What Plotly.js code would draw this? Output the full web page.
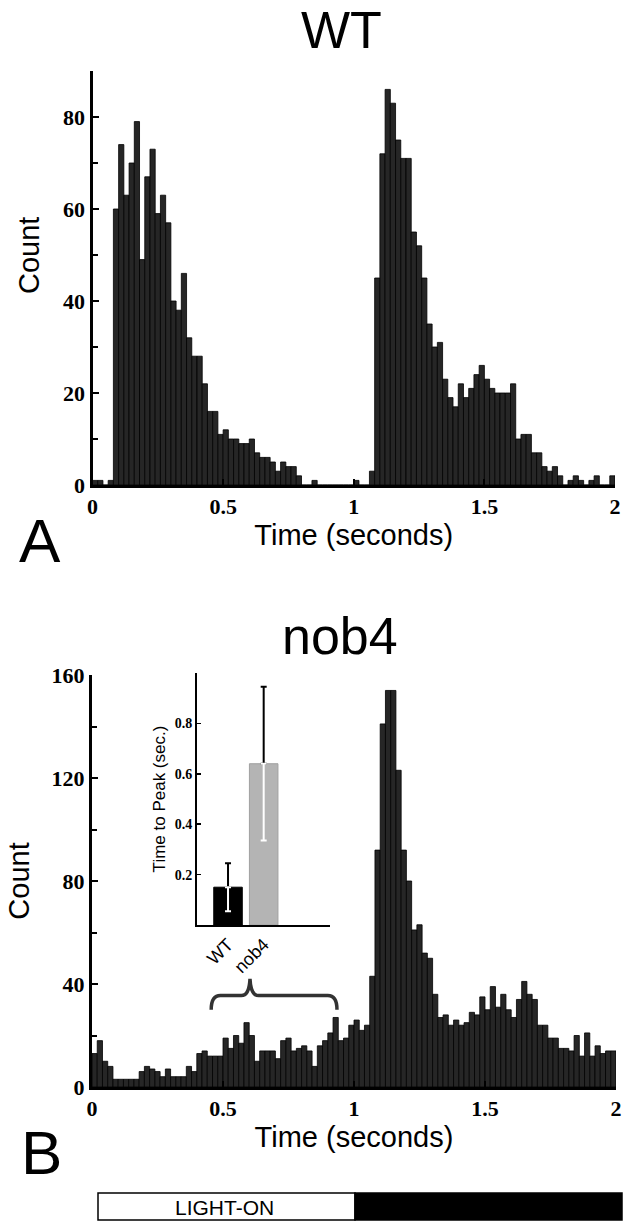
<!DOCTYPE html>
<html><head><meta charset="utf-8">
<script src="https://cdn.plot.ly/plotly-3.0.1.min.js"></script>
<style>html,body{margin:0;padding:0;background:#fff;}#chart{width:632px;height:1222px;}</style>
</head><body><div id="chart"></div>
<script>
// WT spike-time histogram, 0.02 s bins from 0 to 2 s
const wtCounts = [1,1,0,1,60,74,63,70,79,49,67,73,59,63,57,40,38,46,32,28,
  28,22,16,16,11,12,10,10,9,9,10,7,6,6,5,3,5,4,4,2,
  0,0,1,0,0,0,0,0,0,0,1,0,0,3,45,72,86,83,75,71,
  71,55,52,45,35,30,31,23,19,17,22,19,21,24,26,23,21,20,20,20,
  22,10,11,11,7,7,4,3,4,2,0,1,2,1,0,1,2,0,0,2];
// nob4 spike-time histogram, 0.02 s bins from 0 to 2 s
const nob4Counts = [13,18,10,8,3,3,3,3,3,6,8,7,6,4,7,4,4,4,8,6,
  13,14,12,12,12,19,15,20,17,25,20,10,14,14,14,11,18,19,14,15,
  16,14,8,16,18,21,27,18,19,24,26,22,24,43,92,141,154,154,123,92,
  80,61,63,52,50,36,27,28,24,26,24,25,29,28,35,30,39,31,36,30,
  27,34,41,36,34,24,24,19,19,15,15,14,20,12,21,12,16,13,14,14];
const timeTicks = [0, 0.5, 1, 1.5, 2];
const timeTickText = ['0', '0.5', '1', '1.5', '2'];
// Inset: time to peak
const insetGroups = ['WT', 'nob4'];
const insetMeans = [0.15, 0.64];
const insetErr = [0.095, 0.305];
const insetTicks = [0.2, 0.4, 0.6, 0.8];

const W = 632, H = 1222;
const px = v => v / W;
const py = v => 1 - v / H;
const SANS = 'Liberation Sans, Arial, sans-serif';
const SERIF = 'Liberation Serif, Times New Roman, serif';

const histStyle = {color: '#262626', line: {color: '#000', width: 0.8}};

const traces = [
  {type: 'bar', x0: 0.01, dx: 0.02, y: wtCounts, width: 0.02, marker: histStyle,
   xaxis: 'x', yaxis: 'y', hoverinfo: 'x+y'},
  {type: 'bar', x0: 0.01, dx: 0.02, y: nob4Counts, width: 0.02, marker: histStyle,
   xaxis: 'x2', yaxis: 'y2', hoverinfo: 'x+y'},
  {type: 'bar', x: insetGroups, y: insetMeans, width: 0.8,
   marker: {color: ['#000000', '#b4b4b4'], line: {color: ['#000000', '#a0a0a0'], width: 1}},
   error_y: {type: 'data', symmetric: false, array: insetErr, arrayminus: [0, 0],
             color: '#000', thickness: 2, width: 3},
   xaxis: 'x3', yaxis: 'y3'},
  {type: 'scatter', mode: 'markers', x: insetGroups, y: insetMeans,
   marker: {size: 1, opacity: 0},
   error_y: {type: 'data', symmetric: false, array: [0, 0], arrayminus: insetErr,
             color: '#fff', thickness: 2, width: 3},
   xaxis: 'x3', yaxis: 'y3', hoverinfo: 'skip'}
];

const timeAxis = (d0, d1, anchor) => ({
  domain: [px(d0), px(d1)], anchor: anchor, range: [0, 2],
  tickmode: 'array', tickvals: timeTicks, ticktext: timeTickText,
  ticks: 'inside', ticklen: 6, tickwidth: 2, tickcolor: '#000',
  showline: true, linewidth: 3, linecolor: '#000',
  showgrid: false, zeroline: false,
  tickfont: {family: SERIF, size: 22, color: '#000', weight: 'bold'},
  title: {text: 'Time (seconds)', font: {family: SANS, size: 29, color: '#000'}, standoff: 6}
});
const countAxis = (top, bottom, max, step, anchor, withTitle) => ({
  domain: [py(bottom), py(top)], anchor: anchor, range: [0, max],
  tick0: 0, dtick: step, ticks: 'inside', ticklen: 6, tickwidth: 2, tickcolor: '#000',
  minor: {dtick: step / 2, ticks: 'inside', ticklen: 5, tickwidth: 2, tickcolor: '#000'},
  showline: true, linewidth: 3, linecolor: '#000',
  showgrid: false, zeroline: false,
  tickfont: {family: SERIF, size: 22, color: '#000', weight: 'bold'},
  title: withTitle ? {text: 'Count', font: {family: SANS, size: 29, color: '#000'}, standoff: 14} : {text: ''}
});

const layout = {
  width: W, height: H, margin: {l: 0, r: 0, t: 0, b: 0},
  paper_bgcolor: '#fff', plot_bgcolor: 'rgba(0,0,0,0)',
  showlegend: false, barmode: 'overlay', bargap: 0,
  xaxis: timeAxis(92.5, 615, 'y'),
  yaxis: countAxis(71, 485, 90, 20, 'x', false),
  xaxis2: timeAxis(92, 616, 'y2'),
  yaxis2: countAxis(675, 1087, 160, 40, 'x2', true),
  xaxis3: {domain: [px(197), px(330)], anchor: 'y3', range: [-0.87, 2.86],
    showline: true, linewidth: 2, linecolor: '#000', ticks: '', showgrid: false,
    tickangle: -45, tickfont: {family: SANS, size: 18, color: '#000'}},
  yaxis3: {domain: [py(925), py(673)], anchor: 'x3', range: [0, 1.0],
    tickmode: 'array', tickvals: insetTicks, ticktext: insetTicks.map(v => v.toFixed(1)),
    ticks: 'inside', ticklen: 4, tickwidth: 1.5, tickcolor: '#000',
    showline: true, linewidth: 2, linecolor: '#000', showgrid: false, zeroline: false,
    tickfont: {family: SERIF, size: 14, color: '#000', weight: 'bold'},
    title: {text: 'Time to Peak (sec.)', font: {family: SANS, size: 17, color: '#000'}, standoff: 5}},
  annotations: [
    {text: 'WT', xref: 'paper', yref: 'paper', x: px(341), y: py(30), showarrow: false,
     xanchor: 'center', yanchor: 'middle', font: {family: SANS, size: 52, color: '#000'}},
    {text: 'nob4', xref: 'paper', yref: 'paper', x: px(340), y: py(636), showarrow: false,
     xanchor: 'center', yanchor: 'middle', font: {family: SANS, size: 52, color: '#000'}},
    {text: 'Count', xref: 'paper', yref: 'paper', x: px(29), y: py(256), showarrow: false,
     textangle: -90, xanchor: 'center', yanchor: 'middle', font: {family: SANS, size: 29, color: '#000'}},
    {text: 'A', xref: 'paper', yref: 'paper', x: px(40), y: py(540), showarrow: false,
     xanchor: 'center', yanchor: 'middle', font: {family: SANS, size: 62, color: '#000'}},
    {text: 'B', xref: 'paper', yref: 'paper', x: px(42), y: py(1152), showarrow: false,
     xanchor: 'center', yanchor: 'middle', font: {family: SANS, size: 62, color: '#000'}},
    {text: 'LIGHT-ON', xref: 'paper', yref: 'paper', x: px(224), y: py(1207), showarrow: false,
     xanchor: 'center', yanchor: 'middle', font: {family: SANS, size: 21, color: '#000'}}
  ],
  shapes: [
    {type: 'path', xref: 'x2', yref: 'y2',
     path: 'M 0.455,30 Q 0.455,35.5 0.49,35.5 L 0.57,35.5 Q 0.6,35.5 0.603,42 Q 0.606,35.5 0.636,35.5 L 0.90,35.5 Q 0.935,35.5 0.935,30',
     line: {color: '#333', width: 3.5}},
    {type: 'rect', xref: 'paper', yref: 'paper', x0: px(98), x1: px(355), y0: py(1220), y1: py(1193),
     fillcolor: '#fff', line: {color: '#000', width: 1.5}},
    {type: 'rect', xref: 'paper', yref: 'paper', x0: px(355), x1: px(622), y0: py(1220), y1: py(1193),
     fillcolor: '#000', line: {color: '#000', width: 1.5}}
  ]
};

Plotly.newPlot('chart', traces, layout, {displayModeBar: false, staticPlot: true});
</script>
</body></html>
